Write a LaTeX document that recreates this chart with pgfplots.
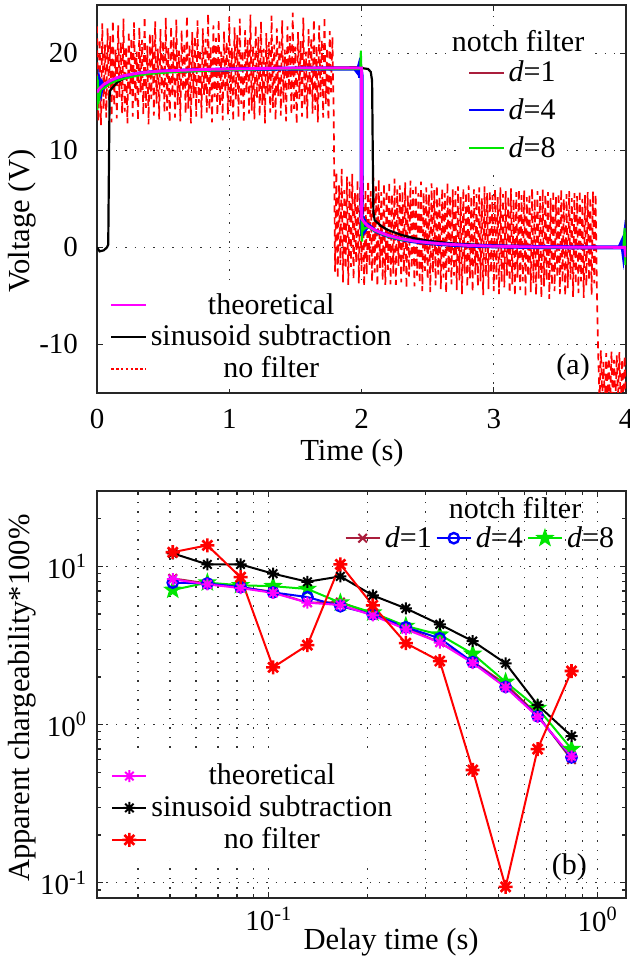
\documentclass[border=0pt]{standalone}
\usepackage{fontspec}
\setmainfont{Liberation Serif}
\usepackage{pgfplots}
\pgfplotsset{compat=1.18}
\definecolor{dred}{RGB}{170,30,60}
\definecolor{myred}{RGB}{255,0,0}
\definecolor{mygreen}{RGB}{0,230,0}
\definecolor{myblue}{RGB}{0,0,255}
\definecolor{mymag}{RGB}{255,0,255}
\pgfdeclareplotmark{ast8}{%
  \pgfpathmoveto{\pgfqpoint{-\pgfplotmarksize}{0pt}}\pgfpathlineto{\pgfqpoint{\pgfplotmarksize}{0pt}}%
  \pgfpathmoveto{\pgfqpoint{0pt}{-\pgfplotmarksize}}\pgfpathlineto{\pgfqpoint{0pt}{\pgfplotmarksize}}%
  \pgfpathmoveto{\pgfqpoint{-0.707\pgfplotmarksize}{-0.707\pgfplotmarksize}}\pgfpathlineto{\pgfqpoint{0.707\pgfplotmarksize}{0.707\pgfplotmarksize}}%
  \pgfpathmoveto{\pgfqpoint{-0.707\pgfplotmarksize}{0.707\pgfplotmarksize}}\pgfpathlineto{\pgfqpoint{0.707\pgfplotmarksize}{-0.707\pgfplotmarksize}}%
  \pgfusepathqstroke}
\pgfdeclareplotmark{pent}{%
  \pgfpathmoveto{\pgfpointpolar{90}{\pgfplotmarksize}}%
  \pgfpathlineto{\pgfpointpolar{126}{0.4\pgfplotmarksize}}%
  \pgfpathlineto{\pgfpointpolar{162}{\pgfplotmarksize}}%
  \pgfpathlineto{\pgfpointpolar{198}{0.4\pgfplotmarksize}}%
  \pgfpathlineto{\pgfpointpolar{234}{\pgfplotmarksize}}%
  \pgfpathlineto{\pgfpointpolar{270}{0.4\pgfplotmarksize}}%
  \pgfpathlineto{\pgfpointpolar{306}{\pgfplotmarksize}}%
  \pgfpathlineto{\pgfpointpolar{342}{0.4\pgfplotmarksize}}%
  \pgfpathlineto{\pgfpointpolar{18}{\pgfplotmarksize}}%
  \pgfpathlineto{\pgfpointpolar{54}{0.4\pgfplotmarksize}}%
  \pgfpathclose\pgfusepathqfillstroke}
\pgfplotsset{
  mystyle/.style={scale only axis, width=264.5pt,
    axis line style={line width=1pt, black!85},
    tick style={black!85, line width=0.6pt},
    major tick length=3pt, minor tick length=2pt, tick align=inside,
    grid style={black!80, line width=0.6pt, dash pattern=on 0.7pt off 4pt},
    font=\fontsize{14.5}{17}\selectfont,
    label style={font=\fontsize{15.3}{18}\selectfont},
    legend style={draw=none, fill=white, font=\fontsize{15}{18}\selectfont}},
  legax/.style={mystyle, hide axis, xmin=0, xmax=1, ymin=0, ymax=1},
}
\begin{document}
\begin{tikzpicture}
\useasboundingbox (0,0) rectangle (314.5pt,480.5pt);
% ---------------- panel (a) ----------------
\begin{axis}[mystyle, at={(48.5pt,284pt)}, anchor=south west, height=194pt,
  xmin=0, xmax=4, ymin=-15, ymax=25,
  xtick={0,1,2,3,4}, xticklabels={0,1,2,3,4},
  ytick={-10,0,10,20}, yticklabels={-10,0,10,20},
  xmajorgrids, ymajorgrids,
  xticklabel style={yshift=-4.5pt}, yticklabel style={xshift=-6pt},
  xlabel={Time (s)}, ylabel={Voltage (V)},
  xlabel style={at={(axis description cs:0.482,-0.155)}, anchor=center},
  ylabel style={at={(axis description cs:-0.142,0.443)}, anchor=center}]
\addplot[myred, line width=0.85pt, dash pattern=on 3.5pt off 2.5pt] coordinates {
(0.00,22.8)(0.01,13.0)(0.02,21.5)(0.03,12.6)(0.04,23.1)(0.05,14.2)(0.06,20.9)(0.07,13.4)(0.08,22.6)(0.09,15.1)
(0.10,21.8)(0.11,12.9)(0.12,23.4)(0.13,14.6)(0.14,20.4)(0.15,13.3)(0.16,22.9)(0.17,15.5)(0.18,21.2)(0.19,13.8)
(0.20,23.6)(0.21,14.0)(0.22,20.7)(0.23,12.8)(0.24,22.3)(0.25,15.8)(0.26,21.6)(0.27,13.5)(0.28,23.2)(0.29,14.9)
(0.30,20.2)(0.31,13.1)(0.32,22.7)(0.33,16.0)(0.34,21.4)(0.35,13.7)(0.36,23.8)(0.37,14.4)(0.38,20.8)(0.39,12.7)
(0.40,22.1)(0.41,15.3)(0.42,21.9)(0.43,13.6)(0.44,23.3)(0.45,14.8)(0.46,20.5)(0.47,13.2)(0.48,22.5)(0.49,15.9)
(0.50,21.3)(0.51,13.9)(0.52,23.7)(0.53,14.1)(0.54,20.6)(0.55,12.9)(0.56,22.8)(0.57,15.6)(0.58,21.7)(0.59,13.4)
(0.60,23.5)(0.61,14.7)(0.62,20.3)(0.63,13.0)(0.64,22.4)(0.65,16.1)(0.66,21.1)(0.67,13.8)(0.68,23.9)(0.69,14.3)
(0.70,20.9)(0.71,12.8)(0.72,22.2)(0.73,15.4)(0.74,21.8)(0.75,13.5)(0.76,23.4)(0.77,14.9)(0.78,20.4)(0.79,13.3)
(0.80,22.6)(0.81,15.7)(0.82,21.5)(0.83,13.9)(0.84,24.1)(0.85,14.2)(0.86,20.7)(0.87,12.9)(0.88,22.9)(0.89,15.5)
(0.90,21.6)(0.91,13.6)(0.92,23.5)(0.93,14.6)(0.94,20.2)(0.95,13.1)(0.96,22.3)(0.97,16.0)(0.98,21.2)(0.99,13.7)
(1.00,23.8)(1.01,14.5)(1.02,20.6)(1.03,13.0)(1.04,22.7)(1.05,15.2)(1.06,21.9)(1.07,13.4)(1.08,23.6)(1.09,14.8)
(1.10,20.3)(1.11,12.9)(1.12,22.4)(1.13,15.9)(1.14,21.4)(1.15,13.8)(1.16,24.0)(1.17,14.1)(1.18,20.8)(1.19,13.2)
(1.20,22.9)(1.21,15.4)(1.22,21.7)(1.23,13.5)(1.24,23.3)(1.25,14.7)(1.26,20.5)(1.27,12.8)(1.28,22.1)(1.29,15.8)
(1.30,21.2)(1.31,13.9)(1.32,23.9)(1.33,14.4)(1.34,20.9)(1.35,13.1)(1.36,22.6)(1.37,15.6)(1.38,21.5)(1.39,13.6)
(1.40,23.4)(1.41,14.9)(1.42,20.4)(1.43,13.0)(1.44,22.8)(1.45,16.2)(1.46,21.8)(1.47,13.7)(1.48,24.2)(1.49,14.3)
(1.50,20.7)(1.51,12.7)(1.52,22.2)(1.53,15.3)(1.54,21.3)(1.55,13.5)(1.56,23.7)(1.57,14.6)(1.58,20.2)(1.59,13.3)
(1.60,22.5)(1.61,15.7)(1.62,21.6)(1.63,13.8)(1.64,23.5)(1.65,14.2)(1.66,20.8)(1.67,12.9)(1.68,22.9)(1.69,15.5)
(1.70,21.4)(1.71,13.4)(1.72,23.8)(1.73,14.8)(1.74,20.6)(1.75,13.1)(1.76,22.3)(1.77,16.0)(1.78,21.7)(1.79,13.6)
(1.80,-2.5)(1.81,7.8)(1.82,-3.2)(1.83,6.4)(1.84,-1.8)(1.85,8.1)(1.86,-3.6)(1.87,5.9)(1.88,-2.2)(1.89,7.3)
(1.90,-3.9)(1.91,6.8)(1.92,-2.0)(1.93,7.6)(1.94,-3.3)(1.95,5.6)(1.96,-1.6)(1.97,7.0)(1.98,-3.7)(1.99,6.2)
(2.00,-2.4)(2.01,7.4)(2.02,-4.1)(2.03,6.0)(2.04,-2.8)(2.05,6.9)(2.06,-1.9)(2.07,5.8)(2.08,-3.5)(2.09,7.2)
(2.10,-2.6)(2.11,6.3)(2.12,-4.0)(2.13,7.0)(2.14,-2.1)(2.15,5.7)(2.16,-3.4)(2.17,6.6)(2.18,-4.3)(2.19,5.9)
(2.20,-2.3)(2.21,6.8)(2.22,-3.8)(2.23,5.5)(2.24,-2.7)(2.25,7.1)(2.26,-4.4)(2.27,6.0)(2.28,-1.9)(2.29,6.4)
(2.30,-3.6)(2.31,5.8)(2.32,-2.5)(2.33,6.7)(2.34,-4.2)(2.35,5.4)(2.36,-3.0)(2.37,6.9)(2.38,-2.2)(2.39,5.9)
(2.40,-4.0)(2.41,6.5)(2.42,-2.9)(2.43,5.6)(2.44,-3.7)(2.45,6.8)(2.46,-4.5)(2.47,5.7)(2.48,-2.4)(2.49,6.2)
(2.50,-3.3)(2.51,5.5)(2.52,-4.6)(2.53,6.6)(2.54,-2.6)(2.55,5.9)(2.56,-3.9)(2.57,6.4)(2.58,-2.8)(2.59,5.3)
(2.60,-4.3)(2.61,6.1)(2.62,-3.1)(2.63,5.6)(2.64,-4.7)(2.65,6.7)(2.66,-2.5)(2.67,5.4)(2.68,-3.8)(2.69,6.0)
(2.70,-2.9)(2.71,5.8)(2.72,-4.4)(2.73,6.3)(2.74,-3.4)(2.75,5.2)(2.76,-4.8)(2.77,6.1)(2.78,-2.7)(2.79,5.7)
(2.80,-4.1)(2.81,6.4)(2.82,-3.2)(2.83,5.3)(2.84,-4.6)(2.85,6.0)(2.86,-2.8)(2.87,5.5)(2.88,-4.0)(2.89,6.2)
(2.90,-3.5)(2.91,5.1)(2.92,-4.9)(2.93,6.3)(2.94,-3.0)(2.95,5.6)(2.96,-4.3)(2.97,5.9)(2.98,-2.6)(2.99,5.4)
(3.00,-4.5)(3.01,6.0)(3.02,-3.3)(3.03,5.2)(3.04,-4.8)(3.05,6.2)(3.06,-3.6)(3.07,5.5)(3.08,-4.1)(3.09,5.8)
(3.10,-2.9)(3.11,5.3)(3.12,-4.7)(3.13,6.1)(3.14,-3.8)(3.15,5.0)(3.16,-5.0)(3.17,5.7)(3.18,-3.1)(3.19,6.0)
(3.20,-4.4)(3.21,5.4)(3.22,-3.5)(3.23,5.9)(3.24,-5.1)(3.25,5.2)(3.26,-3.0)(3.27,5.6)(3.28,-4.6)(3.29,6.1)
(3.30,-3.7)(3.31,5.0)(3.32,-4.9)(3.33,5.8)(3.34,-3.2)(3.35,5.3)(3.36,-5.2)(3.37,6.0)(3.38,-4.0)(3.39,5.5)
(3.40,-3.4)(3.41,5.7)(3.42,-5.3)(3.43,5.1)(3.44,-3.9)(3.45,5.9)(3.46,-4.5)(3.47,5.2)(3.48,-3.1)(3.49,5.6)
(3.50,-4.8)(3.51,6.0)(3.52,-3.6)(3.53,5.0)(3.54,-5.0)(3.55,5.5)(3.56,-4.2)(3.57,5.8)(3.58,-3.3)(3.59,5.1)
(3.60,-5.1)(3.61,5.6)(3.62,-3.8)(3.63,5.3)(3.64,-4.7)(3.65,5.9)(3.66,-3.5)(3.67,5.0)(3.68,-5.2)(3.69,5.4)
(3.70,-4.0)(3.71,5.7)(3.72,-3.4)(3.73,5.2)(3.74,-4.9)(3.75,5.8)(3.76,-3.7)(3.77,5.5)(3.78,-4.4)
(3.79,-11.0)(3.80,-16.0)(3.81,-10.6)(3.82,-15.5)(3.83,-11.8)(3.84,-16.2)(3.85,-10.9)(3.86,-15.8)(3.87,-11.4)(3.88,-16.5)
(3.89,-10.7)(3.90,-15.9)(3.91,-11.6)(3.92,-16.1)(3.93,-11.1)(3.94,-15.6)(3.95,-10.8)(3.96,-16.3)(3.97,-11.5)(3.98,-15.7)
(3.99,-11.2)(4.00,-16.0)};
% sinusoid subtraction
\addplot[black, line width=1.1pt] coordinates {
(0,0)(0.02,-0.4)(0.05,-0.3)(0.075,0)(0.085,0.3)(0.09,8)(0.095,15.5)(0.1,16.2)(0.15,17.0)(0.2,17.4)
(0.3,17.8)(0.4,18.0)(0.6,18.2)(0.8,18.3)(1.0,18.4)(1.5,18.5)(2.0,18.5)(2.05,18.4)(2.07,18.1)(2.08,17.2)
(2.085,10)(2.09,3.6)(2.1,2.8)(2.15,2.2)(2.2,1.8)(2.3,1.3)(2.4,0.95)(2.5,0.7)(2.7,0.4)(3.0,0.2)(3.5,0.05)(4.0,0.0)};
% d=1
\addplot[dred, line width=1pt] coordinates {
(0,15.8)(0.02,16.3)(0.05,16.7)(0.1,17.1)(0.15,17.4)(0.2,17.6)(0.3,17.9)(0.4,18.05)(0.5,18.15)(0.6,18.2)
(0.8,18.3)(1.0,18.35)(1.2,18.45)(1.5,18.5)(2.0,18.6)(2.0,2.8)(2.02,2.5)(2.05,2.2)(2.1,1.8)(2.15,1.5)
(2.2,1.25)(2.3,0.9)(2.4,0.65)(2.5,0.5)(2.6,0.38)(2.8,0.22)(3.0,0.13)(3.3,0.06)(3.6,0.03)(3.99,0.0)(4.0,-0.8)};
% d=4
\addplot[myblue, line width=2pt] coordinates {
(0,15.2)(0.004,17.0)(0.008,15.5)(0.012,16.9)(0.016,15.8)(0.02,16.8)(0.03,16.1)(0.04,16.8)(0.05,16.5)(0.1,17.1)
(0.15,17.4)(0.2,17.6)(0.3,17.9)(0.4,18.05)(0.5,18.15)(0.6,18.2)(0.8,18.3)(1.0,18.35)(1.2,18.4)(1.5,18.45)
(1.95,18.45)(1.97,18.1)(1.98,18.6)(1.99,17.5)(1.995,18.4)(2.0,17.8)(2.0,3.4)(2.005,1.2)(2.01,3.2)(2.015,1.5)
(2.02,2.9)(2.03,1.9)(2.05,2.3)(2.1,1.75)(2.15,1.45)(2.2,1.2)(2.3,0.85)(2.4,0.62)(2.5,0.47)(2.6,0.35)
(2.8,0.2)(3.0,0.12)(3.3,0.05)(3.6,0.02)(3.95,0.0)(3.97,0.6)(3.98,-0.5)(3.99,0.8)(4.0,-0.6)};
% d=8
\addplot[mygreen, line width=1pt] coordinates {
(0,17.7)(0.003,14.2)(0.006,17.3)(0.01,14.8)(0.015,16.6)(0.02,15.6)(0.03,16.3)(0.05,16.4)(0.1,16.9)(0.15,17.2)
(0.2,17.4)(0.3,17.7)(0.4,17.9)(0.5,18.0)(0.6,18.1)(0.8,18.2)(1.0,18.3)(1.2,18.35)(1.5,18.4)(1.99,18.4)
(1.995,20.3)(2.0,18.0)(2.0,2.0)(2.004,0.6)(2.008,3.1)(2.015,1.8)(2.03,2.0)(2.05,2.1)(2.1,1.7)(2.2,1.15)
(2.3,0.8)(2.5,0.45)(2.8,0.2)(3.0,0.1)(3.5,0.0)(3.98,0.0)(3.99,2.0)(3.995,-1.8)(4.0,0.5)};
% theoretical
\addplot[mymag, line width=1.4pt] coordinates {
(0,16.0)(0.02,16.4)(0.05,16.8)(0.1,17.2)(0.15,17.5)(0.2,17.7)(0.3,17.95)(0.4,18.1)(0.5,18.2)(0.6,18.25)
(0.8,18.35)(1.0,18.4)(1.2,18.45)(1.5,18.5)(2.0,18.5)(2.0,3.0)(2.02,2.6)(2.05,2.2)(2.1,1.8)(2.15,1.5)
(2.2,1.25)(2.3,0.9)(2.4,0.65)(2.5,0.5)(2.6,0.38)(2.8,0.22)(3.0,0.13)(3.3,0.06)(3.6,0.03)(3.99,0.01)(4.0,-1.0)};
\node[font=\fontsize{15}{18}\selectfont] at (axis cs:3.6,-12.4) {(a)};
\end{axis}
% legend: notch filter (a)
\begin{axis}[legax, at={(48.5pt,284pt)}, anchor=south west, height=194pt,
  legend cell align=left,
  legend style={at={(rel axis cs:0.69,0.878)}, anchor=north west, row sep=3pt}]
\addlegendimage{dred, line width=1pt}\addlegendentry{\textit{d}=1}
\addlegendimage{myblue, line width=1pt}\addlegendentry{\textit{d}=4}
\addlegendimage{mygreen, line width=1pt}\addlegendentry{\textit{d}=8}
\end{axis}
% legend: other methods (a)
\begin{axis}[legax, at={(48.5pt,284pt)}, anchor=south west, height=194pt,
  legend cell align=center,
  legend style={at={(rel axis cs:0.013,0.144)}, anchor=west}]
\addlegendimage{mymag, line width=1.2pt}\addlegendentry{theoretical}
\addlegendimage{black, line width=1.2pt}\addlegendentry{sinusoid subtraction}
\addlegendimage{myred, line width=0.8pt, dash pattern=on 1.2pt off 1.2pt}\addlegendentry{no filter}
\end{axis}
% ---------------- panel (b) ----------------
\begin{axis}[mystyle, xmode=log, ymode=log, at={(48.5pt,31.5pt)}, anchor=south west, height=203.5pt,
  xmin=0.03, xmax=1.22, ymin=0.08, ymax=30,
  xtick={0.1,1}, xticklabels={10\textsuperscript{-1},10\textsuperscript{0}},
  ytick={0.1,1,10}, yticklabels={10\textsuperscript{-1},10\textsuperscript{0},10\textsuperscript{1}},
  minor xtick={0.04,0.05,0.06,0.07,0.08,0.09,0.2,0.3,0.4,0.5,0.6,0.7,0.8,0.9},
  minor ytick={0.09,0.2,0.3,0.4,0.5,0.6,0.7,0.8,0.9,2,3,4,5,6,7,8,9,20},
  xmajorgrids, xminorgrids, ymajorgrids,
  xticklabel style={yshift=-1pt}, yticklabel style={xshift=-1.5pt},
  xlabel={Delay time (s)}, ylabel={Apparent chargeability*100\%},
  xlabel style={at={(axis description cs:0.556,-0.108)}, anchor=center},
  ylabel style={at={(axis description cs:-0.142,0.491)}, anchor=center}]
\addplot[dred, line width=1pt, mark=x, mark size=3pt] coordinates {
(0.051,8.4)(0.065,7.8)(0.082,7.4)(0.103,6.9)(0.131,5.9)(0.165,5.95)(0.207,5.0)(0.261,4.1)(0.331,3.3)(0.417,2.5)(0.525,1.8)(0.657,1.15)(0.833,0.60)};
\addplot[mygreen, line width=1pt, mark=pent, mark size=3.6pt, mark options={fill=mygreen}] coordinates {
(0.051,7.1)(0.065,7.9)(0.082,7.6)(0.103,7.5)(0.131,7.2)(0.165,5.9)(0.207,5.1)(0.261,4.2)(0.331,3.7)(0.417,2.8)(0.525,1.86)(0.657,1.27)(0.833,0.70)};
\addplot[myblue, line width=1pt, mark=o, mark size=2.6pt, mark options={line width=1.2pt}] coordinates {
(0.051,7.9)(0.065,7.8)(0.082,7.4)(0.103,6.85)(0.131,6.4)(0.165,5.6)(0.207,4.98)(0.261,4.12)(0.331,3.51)(0.417,2.48)(0.525,1.73)(0.657,1.13)(0.833,0.62)};
\addplot[mymag, line width=1pt, mark=ast8, mark size=3pt] coordinates {
(0.051,8.3)(0.065,7.7)(0.082,7.3)(0.103,6.8)(0.131,5.9)(0.165,5.7)(0.207,4.9)(0.261,4.0)(0.331,3.3)(0.417,2.45)(0.525,1.72)(0.657,1.12)(0.833,0.63)};
\addplot[black, line width=1pt, mark=ast8, mark size=3pt] coordinates {
(0.051,12.1)(0.065,10.3)(0.082,10.3)(0.103,9.0)(0.131,8.0)(0.165,8.65)(0.207,6.56)(0.261,5.43)(0.331,4.3)(0.417,3.37)(0.525,2.44)(0.657,1.33)(0.833,0.845)};
\addplot[myred, line width=1pt, mark=ast8, mark size=3.5pt, mark options={line width=1.3pt}] coordinates {
(0.051,12.3)(0.065,13.6)(0.082,8.55)(0.103,2.3)(0.131,3.18)(0.165,10.3)(0.207,5.67)(0.261,3.27)(0.331,2.52)(0.417,0.516)(0.525,0.094)(0.657,0.70)(0.833,2.18)};
\node[font=\fontsize{15}{18}\selectfont] at (axis cs:0.82,0.126) {(b)};
\end{axis}
% legend: notch filter (b)
\begin{axis}[legax, at={(48.5pt,31.5pt)}, anchor=south west, height=203.5pt,
  legend columns=3,
  legend style={at={(rel axis cs:0.997,0.884)}, anchor=east, fill=none, inner ysep=0pt, /tikz/every even column/.append style={column sep=0pt}}]
\addlegendimage{dred, line width=1pt, mark=x, mark size=3pt}\addlegendentry{\textit{d}=1}
\addlegendimage{myblue, line width=1pt, mark=o, mark size=2.6pt, mark options={line width=1.2pt}}\addlegendentry{\textit{d}=4}
\addlegendimage{mygreen, line width=1pt, mark=pent, mark size=3.6pt, mark options={fill=mygreen}}\addlegendentry{\textit{d}=8}
\end{axis}
% legend: other methods (b)
\begin{axis}[legax, at={(48.5pt,31.5pt)}, anchor=south west, height=203.5pt,
  legend cell align=center,
  legend style={at={(rel axis cs:0.015,0.221)}, anchor=west}]
\addlegendimage{mymag, line width=1pt, mark=ast8, mark size=3pt}\addlegendentry{theoretical}
\addlegendimage{black, line width=1pt, mark=ast8, mark size=3pt}\addlegendentry{sinusoid subtraction}
\addlegendimage{myred, line width=1pt, mark=ast8, mark size=3.5pt, mark options={line width=1.3pt}}\addlegendentry{no filter}
\end{axis}
% legend titles
\node[fill=white, inner sep=2pt, font=\fontsize{15}{18}\selectfont] at (259pt,460pt) {notch filter};
\node[inner sep=0pt, font=\fontsize{15}{18}\selectfont] at (257.5pt,226.5pt) {notch filter};
\end{tikzpicture}
\end{document}
